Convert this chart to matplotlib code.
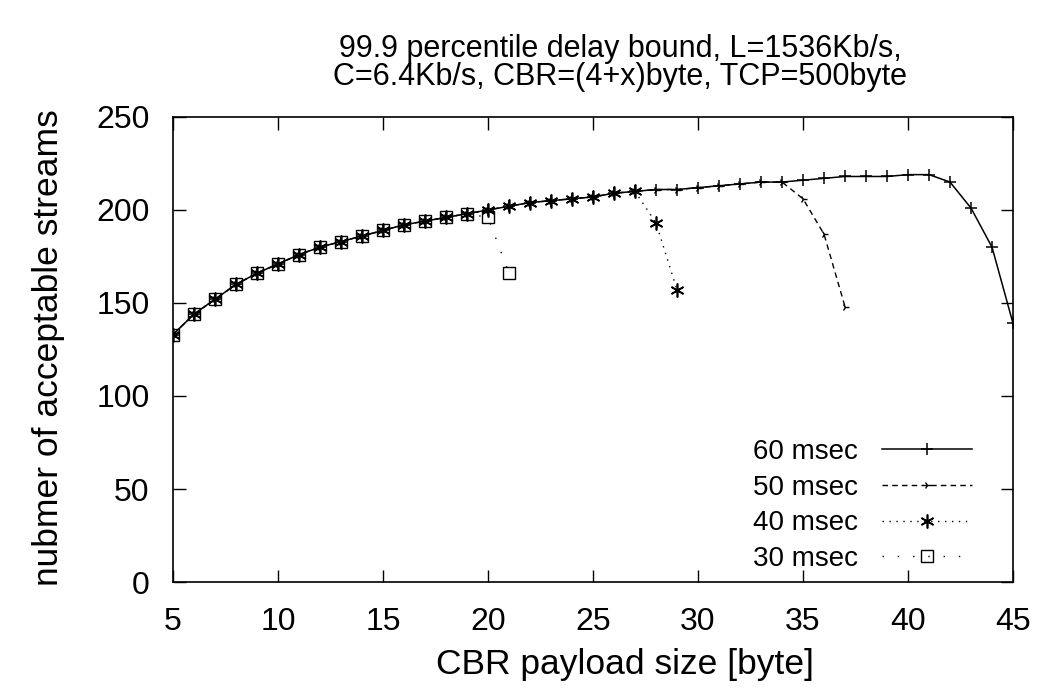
import matplotlib.pyplot as plt

plt.rcParams['font.family'] = ['Liberation Sans', 'DejaVu Sans']

# CBR payload size [byte]
x60 = list(range(5, 46))
y60 = [133, 144, 152, 160, 166, 171, 176, 180, 183, 186,
       189, 192, 194, 196, 198, 200, 202, 204, 205, 206,
       207, 209, 210, 211, 211, 212, 213, 214, 215, 215,
       216, 217, 218, 218, 218, 219, 219, 215, 201, 180, 139]

x50 = list(range(5, 38))
y50 = y60[:30] + [206, 187, 148]

x40 = list(range(5, 30))
y40 = y60[:23] + [193, 157]

x30 = list(range(5, 22))
y30 = y60[:15] + [196, 166]

labels = ['60 msec', '50 msec', '40 msec', '30 msec']

fig = plt.figure(figsize=(10.39, 6.9), dpi=100)
ax = fig.add_axes([0.1665, 0.1565, 0.8085, 0.674])

l60, = ax.plot(x60, y60, color='black', lw=1.1, marker='+', ms=9, mew=1.1)
l50, = ax.plot(x50, y50, color='black', lw=1.0, ls=(0, (4, 3)), marker='4', ms=6, mew=1.0)
l40, = ax.plot(x40, y40, color='black', lw=1.0, ls=(0, (1, 4)), marker=(6, 2, 0), ms=10, mew=1.2)
l30, = ax.plot(x30, y30, color='black', lw=1.0, ls=(0, (1, 10)), marker='s', ms=8,
               mfc='none', mew=1.0)

ax.set_xlim(5, 45)
ax.set_ylim(0, 250)
ax.set_xticks(range(5, 46, 5))
ax.set_yticks(range(0, 251, 50))
ax.tick_params(direction='in', top=True, right=True, length=9, width=1.0,
               labelsize=23)
ax.tick_params(axis='x', pad=18)
ax.tick_params(axis='y', pad=17)
for s in ax.spines.values():
    s.set_linewidth(1.2)

ax.set_xlabel('CBR payload size [byte]', fontsize=25.5)
ax.xaxis.set_label_coords(0.538, -0.142)
ax.set_ylabel('nubmer of acceptable streams', fontsize=25.5)
ax.yaxis.set_label_coords(-0.128, 0.505)

fig.text(0.597, 0.866, '99.9 percentile delay bound, L=1536Kb/s,\nC=6.4Kb/s, CBR=(4+x)byte, TCP=500byte',
         fontsize=22, ha='center', va='bottom', linespacing=0.95, multialignment='center')

ax.legend([l60, l50, l40, l30], labels, loc='lower right', frameon=False,
          markerfirst=False, fontsize=20, handlelength=3.24, handletextpad=0.86,
          labelspacing=0.35, borderpad=0, borderaxespad=0,
          bbox_to_anchor=(0.951, 0.0215))

fig.savefig('out.png', dpi=100)
